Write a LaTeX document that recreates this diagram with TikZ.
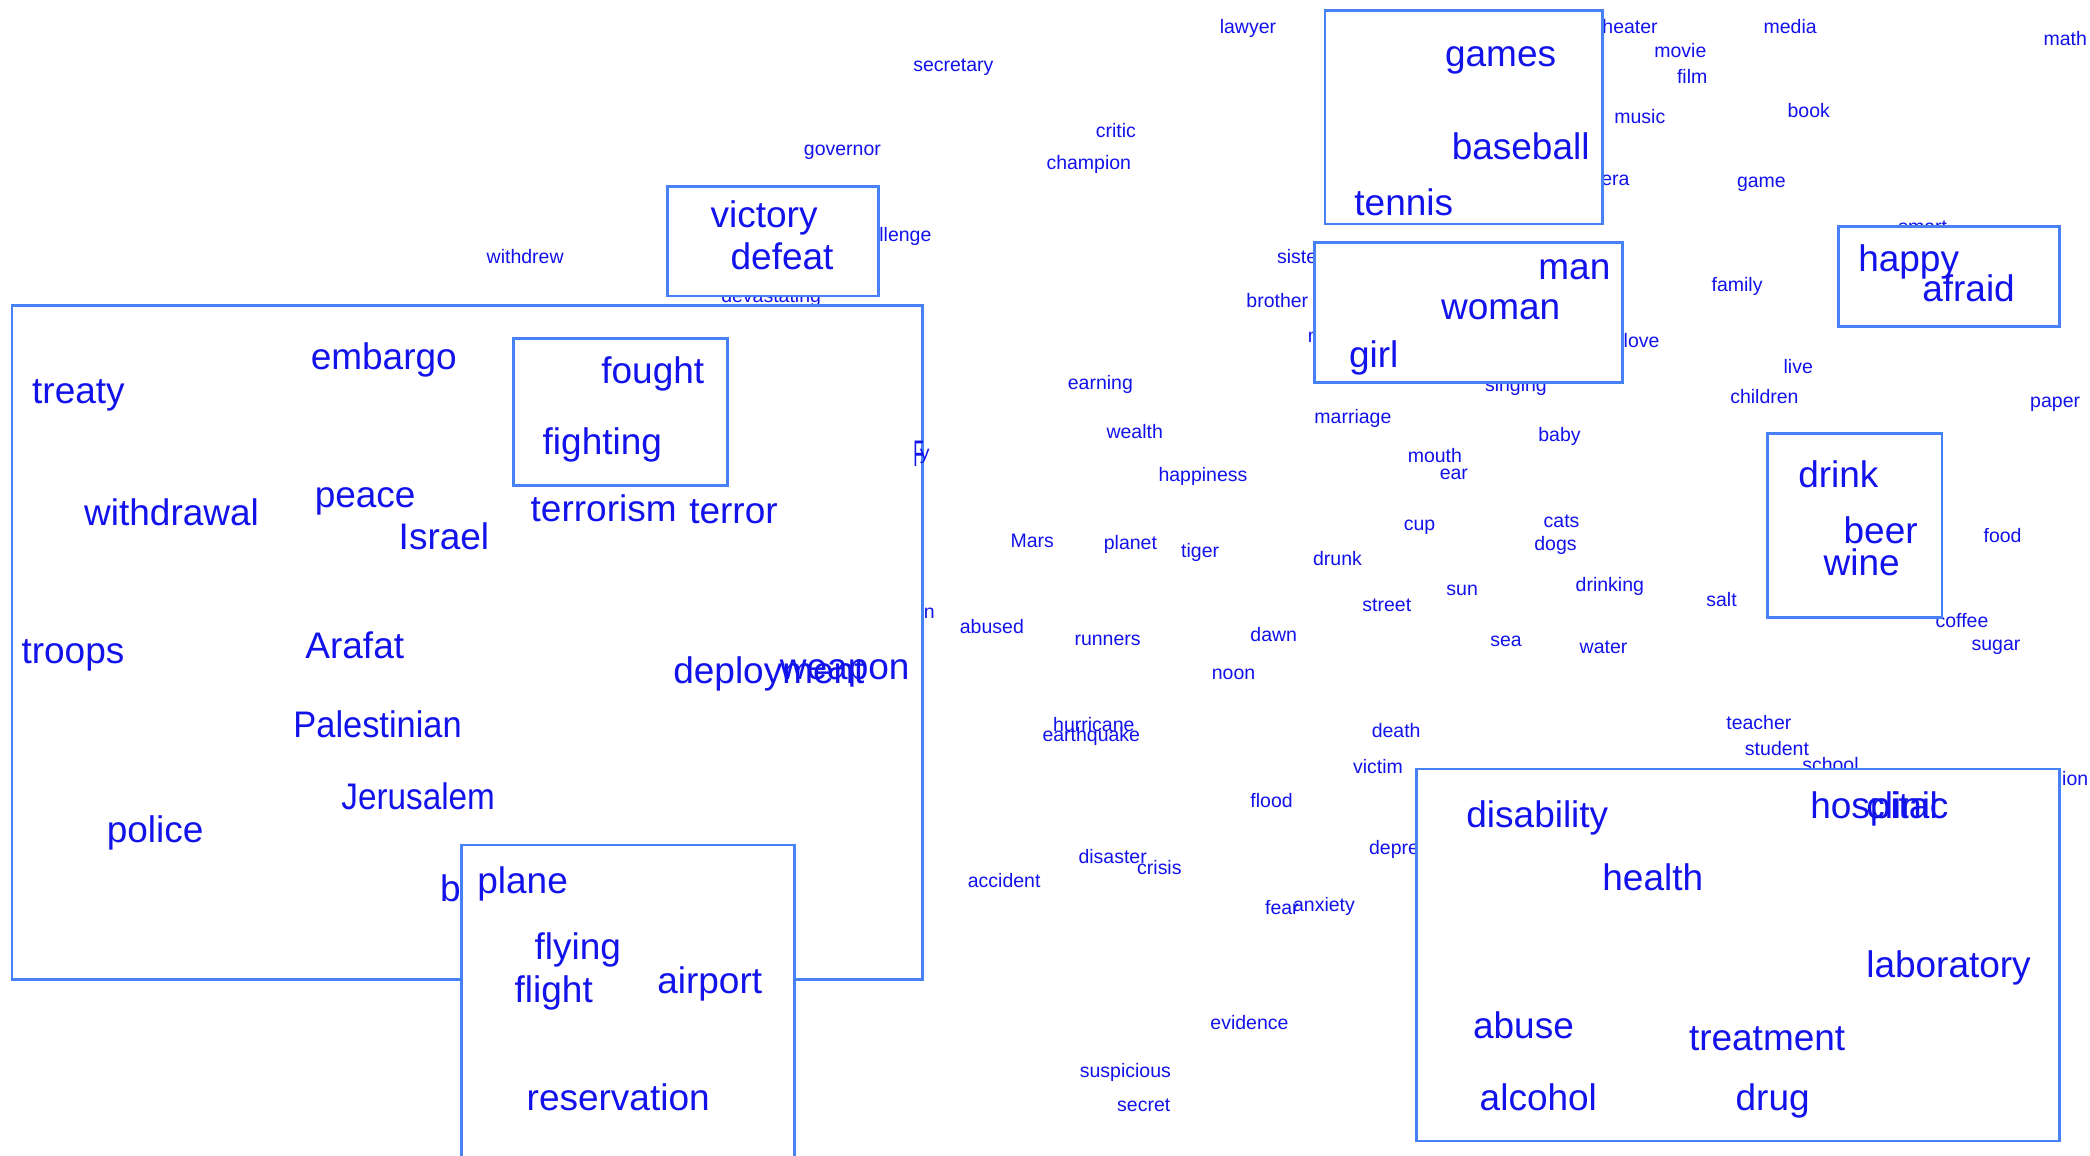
\documentclass[tikz,border=0pt]{standalone}
\usepackage{fontspec}
\setmainfont{Liberation Sans}
\definecolor{wordblue}{RGB}{18,18,235}
\definecolor{boxblue}{RGB}{70,130,245}
\tikzset{
  smallword/.style={anchor=base west, inner sep=0pt, text=wordblue,
    font=\fontsize{19.5}{20}\selectfont},
  bigword/.style={anchor=base west, inner sep=0pt, text=wordblue,
    font=\fontsize{37}{38}\selectfont},
  clusterbox/.style={draw=boxblue, line width=2.8pt, fill=white}
}
\begin{document}
\begin{tikzpicture}[x=1.33333pt, y=-1.33333pt]
\useasboundingbox[fill=white] (0,0) rectangle (1568,867);
\clip (0,0) rectangle (1568,867);

% scattered words
\foreach \w/\x/\y in {
  lawyer/915/25, secretary/685/54, theater/1198/25, movie/1241/43,
  media/1323/25, math/1533/34, film/1258/63, music/1211/93, book/1341/88,
  critic/822/103, champion/785/127, governor/603/117, opera/1185/139,
  game/1303/141, smart/1424/175, challenge/636/181, withdrew/365/198,
  devastating/541/227, sister/958/198, brother/935/231, mother/981/257,
  family/1284/219, love/1218/261, singing/1114/294, live/1338/280,
  children/1298/303, paper/1523/306, earning/801/292, wealth/830/329,
  marriage/986/318, baby/1154/331, mouth/1056/347, ear/1080/360,
  happiness/869/361, Mars/758/411, planet/828/412, tiger/886/418,
  drunk/985/424, cup/1053/398, cats/1158/396, dogs/1151/413,
  drinking/1182/444, sun/1085/447, street/1022/459, salt/1280/455,
  food/1488/407, coffee/1452/471, sugar/1479/488, sea/1118/485,
  water/1185/490, abused/720/475, runners/806/484, dawn/938/481,
  noon/909/510, hurricane/790/549, earthquake/782/556, death/1029/553,
  victim/1015/580, teacher/1295/547, student/1309/567, school/1352/579,
  flood/938/606, depression/1027/641, disaster/809/648, crisis/853/656,
  accident/726/666, fear/949/686, anxiety/970/684, evidence/908/772,
  suspicious/810/808, secret/838/834}
  \node[smallword] (s-\w) at (\x,\y) {\w};
\node[smallword] (s-ion) at (1547,589) {ion};

% cluster boxes with their words
\draw[clusterbox] (994,8) rectangle (1202,168);
\foreach \w/\x/\y in {games/1084/50, baseball/1089/120, tennis/1016/162}
  \node[bigword] (b-\w) at (\x,\y) {\w};

\draw[clusterbox] (501,140) rectangle (659,222);
\foreach \w/\x/\y in {victory/533/171, defeat/548/202}
  \node[bigword] (b-\w) at (\x,\y) {\w};

\draw[clusterbox] (986,182) rectangle (1217,287);
\foreach \w/\x/\y in {man/1154/210, woman/1081/240, girl/1012/276}
  \node[bigword] (b-\w) at (\x,\y) {\w};

\draw[clusterbox] (1379,170) rectangle (1545,245);
\foreach \w/\x/\y in {happy/1394/204, afraid/1442/226}
  \node[bigword] (b-\w) at (\x,\y) {\w};

\draw[clusterbox] (1326,325) rectangle (1457,463);
\foreach \w/\x/\y in {drink/1349/366, beer/1383/408, wine/1368/432}
  \node[bigword] (b-\w) at (\x,\y) {\w};

\draw[clusterbox] (1063,577) rectangle (1545,856);
\foreach \w/\x/\y in {disability/1100/621, hospital/1358/614, clinic/1400/614,
  health/1202/668, laboratory/1400/733, abuse/1105/779,
  treatment/1267/788, alcohol/1110/833, drug/1302/833}
  \node[bigword] (b-\w) at (\x,\y) {\w};

\draw[clusterbox] (9,229) rectangle (692,735);
\foreach \w/\x/\y in {treaty/24/303, embargo/233/277, withdrawal/63/394,
  peace/236/381, Israel/299/412, terrorism/398/391, terror/517/393,
  troops/16/498, Arafat/229/494, deployment/505/513, weapon/585/510,
  police/80/632, bombing/330/676}
  \node[bigword] (b-\w) at (\x,\y) {\w};
\node[bigword] (b-Palestinian) at (220,553) {\scalebox{0.93}[1]{Palestinian}};
\node[bigword] (b-Jerusalem) at (256,607) {\scalebox{0.9}[1]{Jerusalem}};
\node[bigword] (b-F) at (685,350) {\scalebox{0.45}[1]{F}};
\node[smallword] (s-y) at (690,345) {y};
\node[smallword] (s-n) at (693,464) {n};

\draw[clusterbox] (385,254) rectangle (546,364);
\foreach \w/\x/\y in {fought/451/288, fighting/407/341}
  \node[bigword] (b-\w) at (\x,\y) {\w};

\draw[clusterbox] (346,634) rectangle (596,890);
\foreach \w/\x/\y in {plane/358/670, flying/401/720, flight/386/752,
  airport/493/745, reservation/395/833}
  \node[bigword] (b-\w) at (\x,\y) {\w};
\end{tikzpicture}
\end{document}
